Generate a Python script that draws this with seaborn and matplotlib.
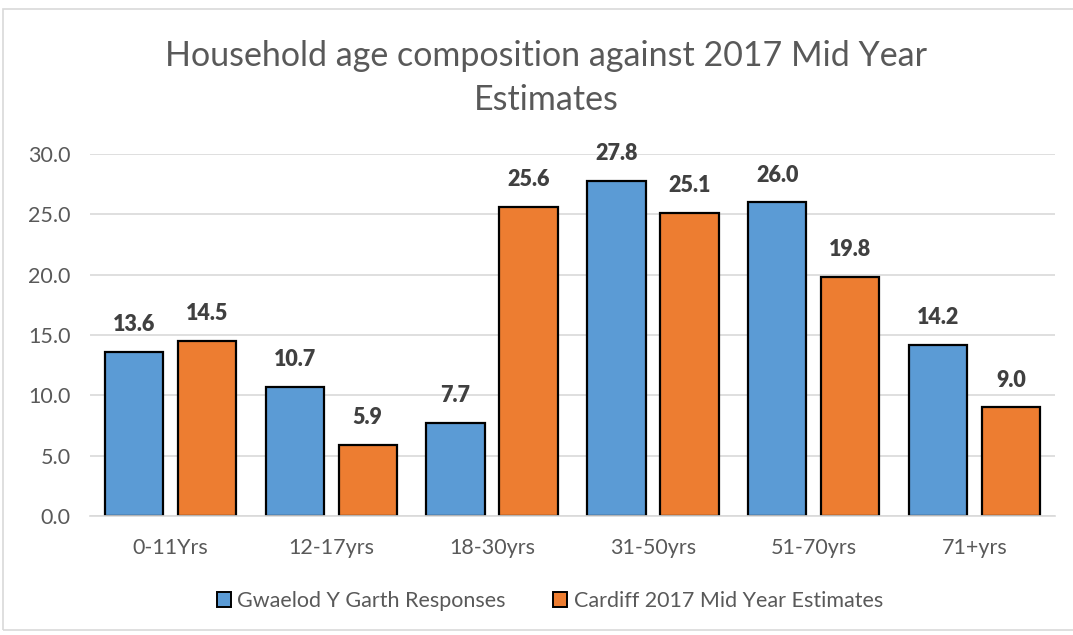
import pandas as pd
import matplotlib.pyplot as plt
import seaborn as sns
from matplotlib.patches import Rectangle

# 데이터
age_groups = ['0-11Yrs', '12-17yrs', '18-30yrs', '31-50yrs', '51-70yrs', '71+yrs']
gwaelod = [13.6, 10.7, 7.7, 27.8, 26.0, 14.2]
cardiff = [14.5, 5.9, 25.6, 25.1, 19.8, 9.0]
series_names = ['Gwaelod Y Garth Responses', 'Cardiff 2017 Mid Year Estimates']
y_ticks = [0, 5, 10, 15, 20, 25, 30]

df = pd.DataFrame({
    'age': age_groups * 2,
    'value': gwaelod + cardiff,
    'series': [series_names[0]] * len(age_groups) + [series_names[1]] * len(age_groups),
})

sns.set_style('white')
plt.rcParams['font.family'] = ['Lato', 'DejaVu Sans']

fig = plt.figure(figsize=(10.73, 6.35), dpi=100)
ax = fig.add_axes([90 / 1073, 1 - 516 / 635, 965 / 1073, (516 - 154) / 635])

sns.barplot(data=df, x='age', y='value', hue='series', ax=ax,
            palette=['#5B9BD5', '#ED7D31'], saturation=1, width=0.908, gap=0.2,
            edgecolor='black', linewidth=1.6, legend=False)

for cont in ax.containers:
    ax.bar_label(cont, fmt='%.1f', padding=12, fontsize=15.5, fontweight='heavy', color='#404040')

ax.set_ylim(0, 30)
ax.set_yticks(y_ticks)
ax.set_yticklabels([f'{v:.1f}' for v in y_ticks])
ax.set_xlim(-0.5, len(age_groups) - 0.5)
ax.yaxis.grid(True, color='#D9D9D9', linewidth=1.2)
ax.set_axisbelow(True)
for side in ['top', 'right', 'left']:
    ax.spines[side].set_visible(False)
ax.spines['bottom'].set_color('#D9D9D9')
ax.spines['bottom'].set_linewidth(1.2)
ax.tick_params(axis='both', length=0, labelsize=15.5, colors='#595959')
ax.tick_params(axis='y', pad=14)
ax.tick_params(axis='x', pad=16)
ax.set_xlabel('')
ax.set_ylabel('')

fig.text(546 / 1073, 1 - 78 / 635, 'Household age composition against 2017 Mid Year\nEstimates',
         ha='center', va='center', fontsize=24.5, color='#595959', linespacing=1.5)

handles = [Rectangle((0, 0), 1, 1, facecolor=c, edgecolor='black', linewidth=1.4)
           for c in ['#5B9BD5', '#ED7D31']]
fig.legend(handles, series_names, loc='center', bbox_to_anchor=(550 / 1073, 1 - 601 / 635),
           ncol=2, frameon=False, fontsize=15.5, handlelength=0.65, handleheight=0.7,
           handletextpad=0.3, columnspacing=2.2, labelcolor='#595959')

fig.patches.append(Rectangle((3 / 1073, 1 - 630 / 635), 1.0, 621 / 635, transform=fig.transFigure,
                             fill=False, edgecolor='#D9D9D9', linewidth=1.2))

fig.savefig('out.png', dpi=100)
